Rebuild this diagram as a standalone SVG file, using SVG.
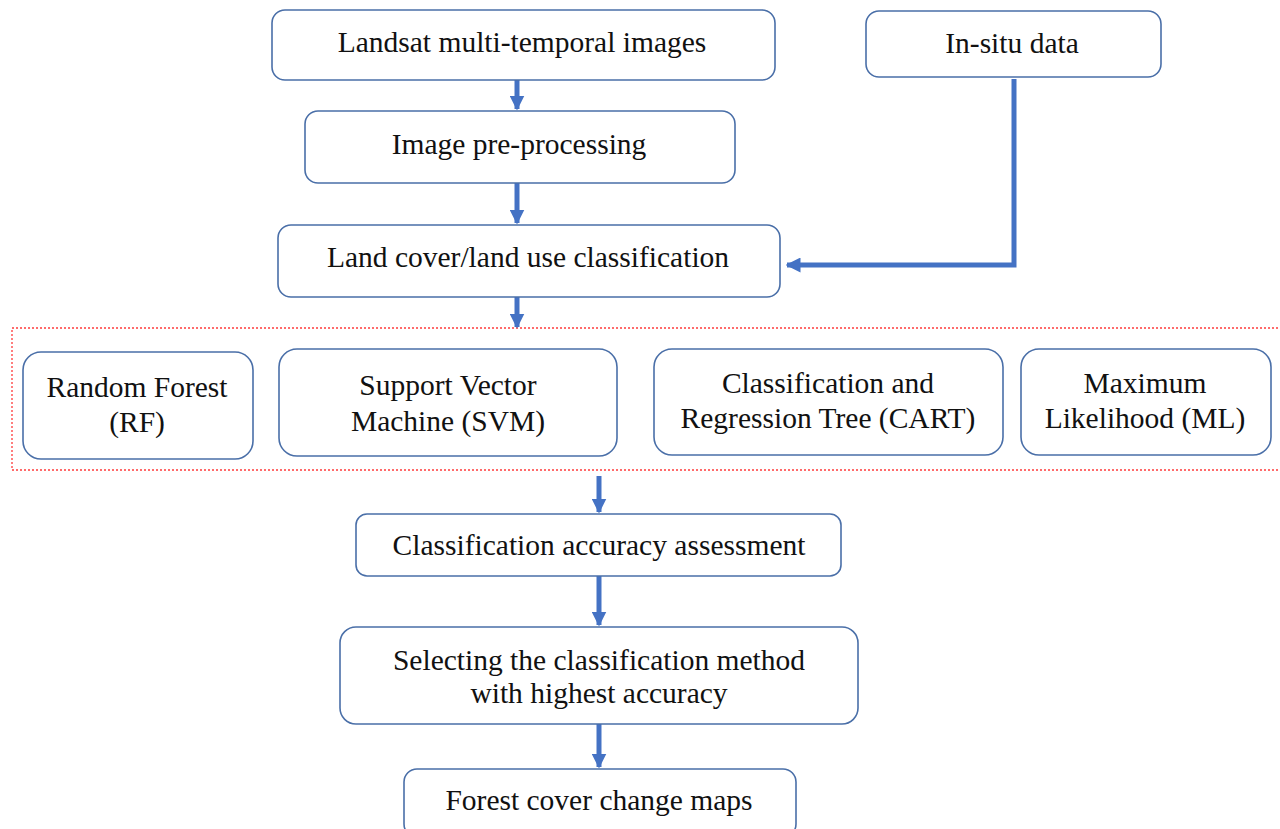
<svg xmlns="http://www.w3.org/2000/svg" width="1280" height="829" viewBox="0 0 1280 829">
  <defs>
    <marker id="arrow" viewBox="0 0 10 10" refX="9" refY="5" markerWidth="3" markerHeight="3" orient="auto" markerUnits="strokeWidth">
      <path d="M0,0 L10,5 L0,10 z" fill="#4472C4"/>
    </marker>
    <style>
      .box { fill: #ffffff; stroke: #4A6FA8; stroke-width: 1.6; }
      .lbl { font-family: "Liberation Serif", "Times New Roman", serif; font-size: 29.5px; fill: #111111; text-anchor: middle; }
      .conn { fill: none; stroke: #4472C4; stroke-width: 5; marker-end: url(#arrow); }
      .group { fill: none; stroke: #FF3B3B; stroke-width: 1.3; stroke-dasharray: 2 2; }
    </style>
  </defs>
  <rect width="1280" height="829" fill="#ffffff"/>

  <!-- dotted frame around the classifier choices -->
  <rect class="group" x="12" y="328" width="1290" height="142"/>

  <g id="connectors">
    <path class="conn" d="M517,80 L517,109"/>
    <path class="conn" d="M517,183 L517,223"/>
    <path class="conn" d="M517,297 L517,327"/>
    <path class="conn" d="M599,476 L599,512"/>
    <path class="conn" d="M599,576 L599,625"/>
    <path class="conn" d="M599,724 L599,767"/>
    <path class="conn" d="M1014,79 L1014,265 L787,265"/>
  </g>

  <g id="landsat">
    <rect class="box" x="272" y="10" width="503" height="70" rx="13"/>
    <text class="lbl" x="522" y="52">Landsat multi-temporal images</text>
  </g>
  <g id="insitu">
    <rect class="box" x="866" y="11" width="295" height="66" rx="13"/>
    <text class="lbl" x="1012" y="53">In-situ data</text>
  </g>
  <g id="preprocessing">
    <rect class="box" x="305" y="111" width="430" height="72" rx="13"/>
    <text class="lbl" x="519" y="154">Image pre-processing</text>
  </g>
  <g id="lulc">
    <rect class="box" x="278" y="225" width="502" height="72" rx="13"/>
    <text class="lbl" x="528" y="267">Land cover/land use classification</text>
  </g>

  <g id="rf">
    <rect class="box" x="23" y="352" width="230" height="107" rx="18"/>
    <text class="lbl" x="137" y="397">Random Forest</text>
    <text class="lbl" x="137" y="432">(RF)</text>
  </g>
  <g id="svm">
    <rect class="box" x="279" y="349" width="338" height="107" rx="18"/>
    <text class="lbl" x="448" y="395">Support Vector</text>
    <text class="lbl" x="448" y="431">Machine (SVM)</text>
  </g>
  <g id="cart">
    <rect class="box" x="654" y="349" width="349" height="106" rx="18"/>
    <text class="lbl" x="828" y="393">Classification and</text>
    <text class="lbl" x="828" y="428">Regression Tree (CART)</text>
  </g>
  <g id="ml">
    <rect class="box" x="1021" y="349" width="250" height="106" rx="18"/>
    <text class="lbl" x="1145" y="393">Maximum</text>
    <text class="lbl" x="1145" y="428">Likelihood (ML)</text>
  </g>

  <g id="accuracy">
    <rect class="box" x="356" y="514" width="485" height="62" rx="11"/>
    <text class="lbl" x="599" y="555">Classification accuracy assessment</text>
  </g>
  <g id="selection">
    <rect class="box" x="340" y="627" width="518" height="97" rx="16"/>
    <text class="lbl" x="599" y="670">Selecting the classification method</text>
    <text class="lbl" x="599" y="703">with highest accuracy</text>
  </g>
  <g id="changemaps">
    <rect class="box" x="404" y="769" width="392" height="68" rx="13"/>
    <text class="lbl" x="599" y="810">Forest cover change maps</text>
  </g>
</svg>
